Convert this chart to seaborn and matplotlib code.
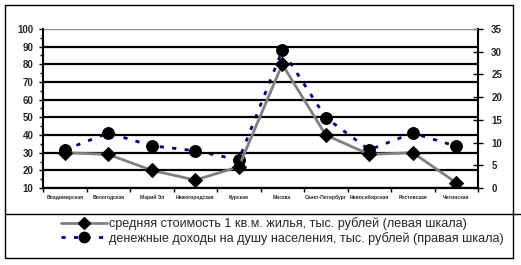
import matplotlib
matplotlib.use("Agg")
import matplotlib.pyplot as plt
import seaborn as sns
import pandas as pd
import numpy as np
from matplotlib.lines import Line2D
from matplotlib.ticker import MultipleLocator, FixedLocator

regions = ["Владимирская", "Вологодская", "Марий Эл", "Нижегородская", "Курская",
           "Москва", "Санкт-Петербург", "Новосибирская", "Ростовская", "Читинская"]
cost = [30, 29, 20, 14.5, 22, 80, 40, 29, 30, 13]
income = [8.4, 12.1, 9.3, 8.2, 6.2, 30.3, 15.5, 8.4, 12.1, 9.2]
label_cost = "средняя стоимость 1 кв.м. жилья, тыс. рублей (левая шкала)"
label_income = "денежные доходы на душу населения, тыс. рублей (правая шкала)"

sns.set_theme(style="white")
plt.rcParams['font.family'] = ['Liberation Sans', 'DejaVu Sans']

df = pd.DataFrame({"region": regions, "cost": cost, "income": income})
df["pos"] = np.arange(len(regions))

fig = plt.figure(figsize=(5.21, 2.65), dpi=100)
ax = fig.add_axes([43/521, 1-188/265, (478-43)/521, (188-29)/265])
ax2 = ax.twinx()

dot_style = (0, (1.5, 3.0))
sns.lineplot(data=df, x="pos", y="income", ax=ax2, sort=False, color="#000080",
             lw=2, linestyle=dot_style, marker="o", markersize=8.5,
             markerfacecolor="black", markeredgecolor="black")
sns.lineplot(data=df, x="pos", y="cost", ax=ax, sort=False, color="#808080",
             lw=2, marker="D", markersize=7,
             markerfacecolor="black", markeredgecolor="black")
ax.set_zorder(ax2.get_zorder() + 1)
ax.patch.set_visible(False)

ax.set_xlim(-0.5, len(regions) - 0.5)
ax.set_ylim(10, 100)
ax2.set_ylim(0, 35)
ax.set_xlabel("")
ax.set_ylabel("")
ax2.set_ylabel("")

ax.yaxis.set_major_locator(MultipleLocator(10))
ax.yaxis.set_minor_locator(MultipleLocator(5))
ax.grid(axis="y", color="black", lw=1.6)
ax.grid(axis="x", visible=False)
for gl, v in zip(ax.yaxis.get_gridlines(), ax.get_yticks()):
    if v >= 100:
        gl.set_color("#909090")
        gl.set_linewidth(1)

ax.set_xticks(np.arange(len(regions)))
ax.set_xticklabels(regions, fontsize=3.6, fontweight="bold")
ax.xaxis.set_minor_locator(FixedLocator(np.arange(-0.5, len(regions), 1.0)))
ax.tick_params(axis="x", which="major", length=0, pad=5)
ax.tick_params(axis="x", which="minor", length=3, width=1, color="black", direction="out", bottom=True)
ax.tick_params(axis="y", which="major", length=3, width=1, color="black", direction="out",
               left=True, labelsize=7, pad=4)
ax.tick_params(axis="y", which="minor", length=2, width=1, color="black", direction="out", left=True)
for t in ax.get_yticklabels():
    t.set_fontweight("bold")

ax2.set_yticks(np.arange(0, 36, 5))
ax2.tick_params(axis="y", which="major", length=7, width=1, color="black", direction="inout",
                right=True, labelsize=7, pad=6)
for t in ax2.get_yticklabels():
    t.set_fontweight("bold")
ax2.grid(False)

for a in (ax, ax2):
    a.spines["top"].set_visible(False)
    for s in ("left", "right", "bottom"):
        a.spines[s].set_color("black")
        a.spines[s].set_linewidth(1.5)
ax.spines["right"].set_visible(False)
ax2.spines["left"].set_visible(False)

# frame and divider
W, H = 521, 265
def fx(x): return x / W
def fy(y): return 1 - y / H
fig.add_artist(Line2D([fx(5), fx(513), fx(513), fx(5), fx(5)],
                      [fy(5), fy(5), fy(258), fy(258), fy(5)], color="black", lw=1))
fig.add_artist(Line2D([fx(5), fx(521)], [fy(214), fy(214)], color="black", lw=1))

handles = [
    Line2D([], [], color="#808080", lw=2, marker="D", markersize=6.5,
           markerfacecolor="black", markeredgecolor="black"),
    Line2D([], [], color="#000080", lw=2, linestyle=dot_style, marker="o", markersize=7.5,
           markerfacecolor="black", markeredgecolor="black"),
]
leg = fig.legend(handles, [label_cost, label_income], loc="center left",
                 bbox_to_anchor=(fx(55), fy(231)), frameon=False, fontsize=9.1,
                 handlelength=3.6, handletextpad=0.15, labelspacing=0.15, borderpad=0)

fig.savefig("out.png", dpi=100)
